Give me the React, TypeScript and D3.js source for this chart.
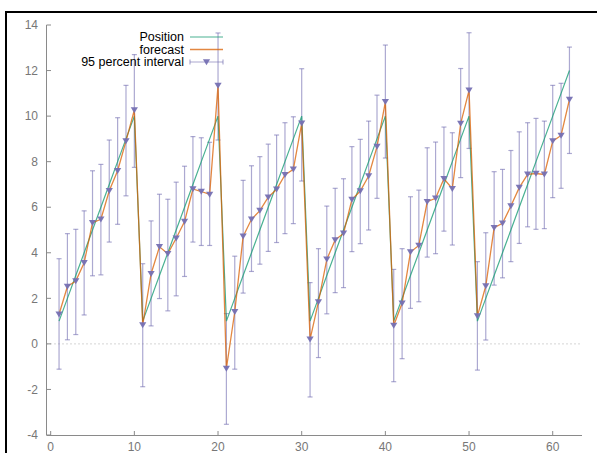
import React from "react";
import * as d3 from "d3";

const steps: number[] = d3.range(1, 63);

const position: number[] = [
  1, 2, 3, 4, 5, 6, 7, 8, 9, 10,
  1, 2, 3, 4, 5, 6, 7, 8, 9, 10,
  1, 2, 3, 4, 5, 6, 7, 8, 9, 10,
  1, 2, 3, 4, 5, 6, 7, 8, 9, 10,
  1, 2, 3, 4, 5, 6, 7, 8, 9, 10,
  1, 2, 3, 4, 5, 6, 7, 8, 9, 10, 11, 12,
];

const forecast: number[] = [
  1.3, 2.52, 2.76, 3.56, 5.32, 5.47, 6.72, 7.6, 8.9, 10.27,
  0.83, 3.08, 4.26, 3.96, 4.64, 5.37, 6.8, 6.69, 6.56, 11.34,
  -1.08, 1.41, 4.72, 5.47, 5.85, 6.44, 6.79, 7.42, 7.66, 9.68,
  0.2, 1.84, 3.71, 4.56, 4.85, 6.34, 6.71, 7.37, 8.66, 10.63,
  0.81, 1.78, 4.03, 4.32, 6.24, 6.39, 7.25, 6.81, 9.67, 11.13,
  1.22, 2.54, 5.1, 5.29, 6.05, 6.86, 7.44, 7.48, 7.44, 8.9, 9.15, 10.73,
];

const lower: number[] = [
  -1.11, 0.18, 0.41, 1.27, 2.99, 3.03, 4.47, 5.25, 6.5, 7.75,
  -1.88, 0.79, 1.99, 1.45, 2.11, 2.96, 4.47, 4.32, 4.32, 8.95,
  -3.53, -1.11, 2.23, 3.18, 3.5, 4.06, 4.45, 4.84, 5.28, 7.15,
  -2.33, -0.6, 1.32, 2.25, 2.47, 4.05, 4.4, 5.0, 6.39, 8.16,
  -1.66, -0.65, 1.56, 1.85, 3.81, 3.96, 4.95, 4.34, 7.3, 8.58,
  -1.15, 0.17, 2.58, 2.9, 3.61, 4.41, 5.14, 5.03, 5.06, 6.42, 6.83, 8.36,
];

const upper: number[] = [
  3.74, 4.84, 5.03, 5.84, 7.6, 7.88, 8.95, 9.93, 11.35, 12.7,
  3.52, 5.4, 6.57, 6.35, 7.1, 7.8, 9.1, 9.05, 8.85, 13.65,
  1.33, 3.85, 7.18, 7.82, 8.22, 8.77, 9.17, 9.71, 9.97, 12.08,
  2.69, 4.18, 6.05, 6.83, 7.25, 8.66, 8.98, 9.78, 10.92, 13.12,
  3.27, 4.18, 6.46, 6.75, 8.61, 8.86, 9.52, 9.27, 12.09, 13.66,
  3.61, 4.88, 7.56, 7.66, 8.49, 9.31, 9.71, 9.9, 9.78, 11.35, 11.44, 13.03,
];

const xTicks: number[] = [0, 10, 20, 30, 40, 50, 60];
const yTicks: number[] = [-4, -2, 0, 2, 4, 6, 8, 10, 12, 14];
const legendLabels: string[] = ["Position", "forecast", "95 percent interval"];

const W = 597;
const H = 453;
const GREEN = "#1b9e77";
const ORANGE = "#d95f02";
const PURPLE = "#7570b3";
const AXIS = "#8a8a8a";
const FONT = "'Liberation Sans', Arial, Helvetica, sans-serif";

export default function App() {
  const x = d3.scaleLinear().domain([-0.5, 63.5]).range([46.5, 582]);
  const y = d3.scaleLinear().domain([-4, 14]).range([435, 25]);

  const line = d3
    .line<[number, number]>()
    .x((d) => x(d[0]))
    .y((d) => y(d[1]));

  const posPath = line(steps.map((s, i) => [s, position[i]] as [number, number])) || "";
  const fcPath = line(steps.map((s, i) => [s, forecast[i]] as [number, number])) || "";

  const tri = (cx: number, cy: number, key: string | number) => (
    <path
      key={key}
      d={`M${cx - 3.6},${cy - 2.8} L${cx + 3.6},${cy - 2.8} L${cx},${cy + 3.2} Z`}
      fill={PURPLE}
      fillOpacity={0.95}
    />
  );

  const legX1 = 190;
  const legX2 = 223;
  const legY = [37, 49.5, 62];

  return (
    <svg
      width={W}
      height={H}
      viewBox={`0 0 ${W} ${H}`}
      style={{ position: "fixed", left: 0, top: 0, background: "#fff" }}
    >
      <rect x={0} y={0} width={W} height={H} fill="#fff" />
      {/* outer frame (top + left) */}
      <line x1={5} y1={12} x2={W} y2={12} stroke="#000" strokeWidth={2} />
      <line x1={6} y1={11} x2={6} y2={H} stroke="#000" strokeWidth={2} />

      {/* zero line */}
      <line
        x1={x(-0.5)}
        x2={582}
        y1={y(0)}
        y2={y(0)}
        stroke="#aaa"
        strokeWidth={1}
        strokeDasharray="1,3"
      />

      {/* axes */}
      <line x1={46.5} x2={46.5} y1={25} y2={435} stroke={AXIS} strokeWidth={1} />
      <line x1={46.5} x2={582} y1={435.5} y2={435.5} stroke={AXIS} strokeWidth={1} />
      {yTicks.map((t) => (
        <g key={"yt" + t}>
          <line x1={46.5} x2={51} y1={y(t)} y2={y(t)} stroke={AXIS} strokeWidth={1} />
          <text
            x={38}
            y={y(t)}
            dy="0.35em"
            textAnchor="end"
            fontFamily={FONT}
            fontSize={12}
            fill="#777"
          >
            {String(t)}
          </text>
        </g>
      ))}
      {xTicks.map((t) => (
        <g key={"xt" + t}>
          <line x1={x(t)} x2={x(t)} y1={435.5} y2={431} stroke={AXIS} strokeWidth={1} />
          <text
            x={x(t)}
            y={451}
            textAnchor="middle"
            fontFamily={FONT}
            fontSize={12}
            fill="#777"
          >
            {String(t)}
          </text>
        </g>
      ))}

      {/* error bars */}
      {steps.map((s, i) => {
        const cx = x(s);
        const y1 = y(lower[i]);
        const y2 = y(upper[i]);
        return (
          <g key={"eb" + s} stroke={PURPLE} strokeOpacity={0.6} strokeWidth={1.2}>
            <line x1={cx} x2={cx} y1={y1} y2={y2} />
            <line x1={cx - 2.5} x2={cx + 2.5} y1={y1} y2={y1} />
            <line x1={cx - 2.5} x2={cx + 2.5} y1={y2} y2={y2} />
          </g>
        );
      })}

      {/* position and forecast lines */}
      <path d={posPath} fill="none" stroke={GREEN} strokeOpacity={0.8} strokeWidth={1.2} />
      <path d={fcPath} fill="none" stroke={ORANGE} strokeOpacity={0.75} strokeWidth={1.3} />

      {/* markers */}
      {steps.map((s, i) => tri(x(s), y(forecast[i]), "m" + s))}

      {/* legend */}
      {legendLabels.map((lab, i) => (
        <text
          key={"lg" + i}
          x={184}
          y={legY[i]}
          dy="0.35em"
          textAnchor="end"
          fontFamily={FONT}
          fontSize={12.5}
          fill="#000"
        >
          {lab}
        </text>
      ))}
      <line x1={legX1} x2={legX2} y1={legY[0]} y2={legY[0]} stroke={GREEN} strokeOpacity={0.8} strokeWidth={1.2} />
      <line x1={legX1} x2={legX2} y1={legY[1]} y2={legY[1]} stroke={ORANGE} strokeOpacity={0.75} strokeWidth={1.3} />
      <g stroke={PURPLE} strokeOpacity={0.6} strokeWidth={1.2}>
        <line x1={legX1} x2={legX2} y1={legY[2]} y2={legY[2]} />
        <line x1={legX1} x2={legX1} y1={legY[2] - 2.5} y2={legY[2] + 2.5} />
        <line x1={legX2} x2={legX2} y1={legY[2] - 2.5} y2={legY[2] + 2.5} />
      </g>
      {tri((legX1 + legX2) / 2, legY[2], "legtri")}
    </svg>
  );
}
